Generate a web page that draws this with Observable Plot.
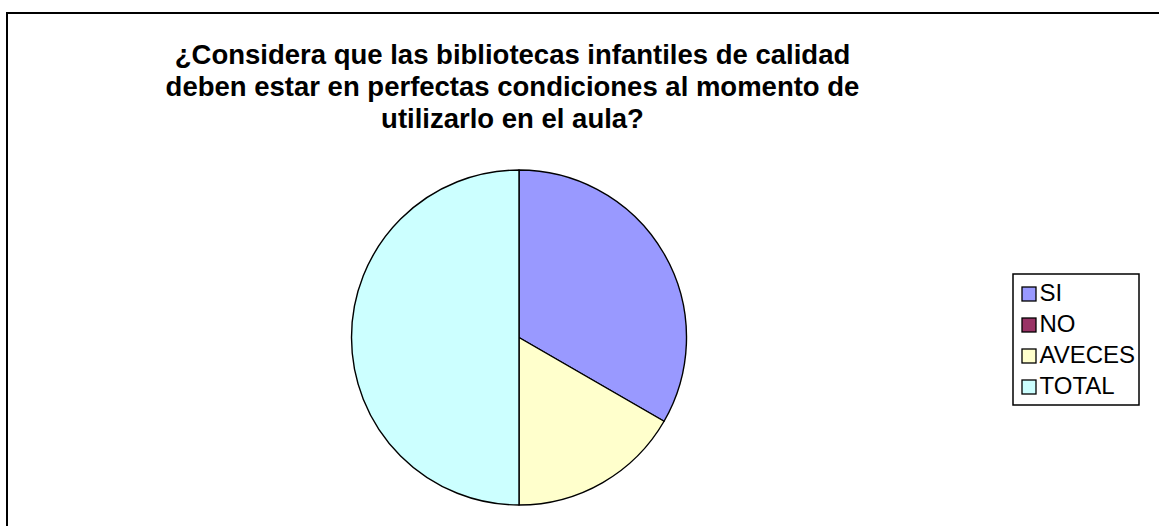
<!DOCTYPE html>
<html><head><meta charset="utf-8">
<script src="https://cdn.jsdelivr.net/npm/d3@7"></script>
<script src="https://cdn.jsdelivr.net/npm/@observablehq/plot@0.6"></script>
<style>body{margin:0;background:#fff}</style>
</head><body><div id="chart"></div>
<script>
// ---- data ----
const categories = ["SI", "NO", "AVECES", "TOTAL"];
const values = [20, 0, 10, 30];
const colors = ["#9999FF", "#993366", "#FFFFCC", "#CCFFFF"];
const titleLines = [
  "¿Considera que las bibliotecas infantiles de calidad",
  "deben estar en perfectas condiciones al momento de",
  "utilizarlo en el aula?"
];

const data = categories.map((c, i) => ({cat: c, value: values[i], i}));

// ---- layout ----
const W = 1159, H = 526;
const cx = 519, cy = 337.5, R = 167.5;
const LG = {x: 1013, y: 274, w: 126, h: 131, sx: 1022, sw: 14, tx: 1039, base0: 300, step: 31};
const FONT = "Liberation Sans, Arial, sans-serif";
const TFS = 27.5, LFS = 24;

const colorScale = Plot.scale({color: {type: "ordinal", domain: categories, range: colors}});

const pieMark = (index, scales) => {
  const color = (scales && scales.color) || colorScale.apply;
  const g = d3.create("svg:g").attr("transform", `translate(${cx},${cy})`);
  const arcs = d3.pie().sort(null).value(d => d.value)(data);
  const arc = d3.arc().innerRadius(0).outerRadius(R);
  g.selectAll("path")
    .data(arcs.filter(a => a.data.value > 0))
    .join("path")
    .attr("d", arc)
    .attr("fill", a => color(a.data.cat))
    .attr("stroke", "#000")
    .attr("stroke-width", 1.4)
    .attr("stroke-linejoin", "round");
  return g.node();
};

const chart = Plot.plot({
  width: W, height: H, margin: 0,
  x: {type: "identity", axis: null},
  y: {type: "identity", axis: null},
  color: {type: "ordinal", domain: categories, range: colors},
  style: {fontFamily: FONT, background: "#fff"},
  marks: [
    // outer frame
    Plot.rect([0], {x1: () => 7, y1: () => 13, x2: () => W + 20, y2: () => H + 20, fill: "none", stroke: "#000", strokeWidth: 2}),
    // title
    Plot.text(titleLines, {
      x: () => 512, y: (d, i) => 63 + 32 * i - 0.32 * TFS, text: d => d,
      fontSize: TFS, fontWeight: "bold", fontFamily: FONT, fill: "#000", textAnchor: "middle"
    }),
    // pie
    pieMark,
    // legend box
    Plot.rect([0], {x1: () => LG.x, y1: () => LG.y, x2: () => LG.x + LG.w, y2: () => LG.y + LG.h, fill: "#fff", stroke: "#000", strokeWidth: 1.5}),
    // legend swatches
    Plot.rect(data, {
      x1: () => LG.sx, x2: () => LG.sx + LG.sw,
      y1: d => LG.base0 + d.i * LG.step - 13, y2: d => LG.base0 + d.i * LG.step + 1,
      fill: "cat", stroke: "#000", strokeWidth: 1.3
    }),
    // legend labels
    Plot.text(data, {
      x: () => LG.tx, y: d => LG.base0 + d.i * LG.step - 0.32 * LFS, text: "cat",
      textAnchor: "start", fontSize: LFS, fontFamily: FONT, fill: "#000"
    })
  ]
});
document.getElementById("chart").append(chart);
</script>
</body></html>
